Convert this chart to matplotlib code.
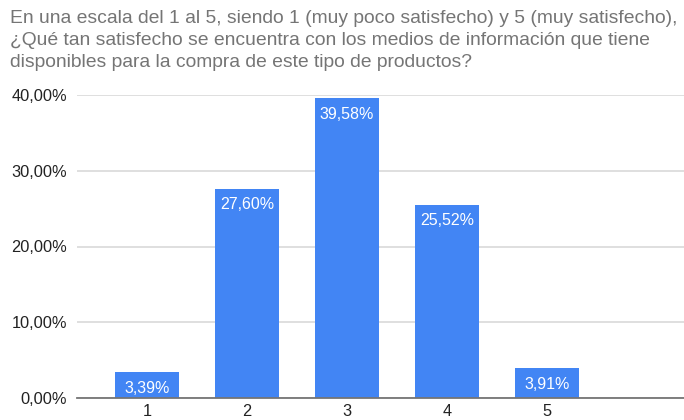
import matplotlib
matplotlib.use("Agg")
import matplotlib.pyplot as plt
from matplotlib.ticker import FuncFormatter

# Survey results: satisfaction score (1-5) and share of respondents (%)
categories = ["1", "2", "3", "4", "5"]
shares = [3.39, 27.60, 39.58, 25.52, 3.91]
y_ticks = [0, 10, 20, 30, 40]

title = ("En una escala del 1 al 5, siendo 1 (muy poco satisfecho) y 5 (muy satisfecho),\n"
         "¿Qué tan satisfecho se encuentra con los medios de información que tiene\n"
         "disponibles para la compra de este tipo de productos?")

BAR_COLOR = "#4285F4"
W, H, DPI = 684, 420, 100

fig = plt.figure(figsize=(W / DPI, H / DPI), dpi=DPI)
fig.patch.set_facecolor("white")

# Axes placement in pixel coordinates
left_px, right_px, top_px, bottom_px = 77, 684, 95, 398
ax = fig.add_axes([left_px / W, 1 - bottom_px / H,
                   (right_px - left_px) / W, (bottom_px - top_px) / H])

x = list(range(1, len(categories) + 1))
bars = ax.bar(x, shares, width=0.64, color=BAR_COLOR, zorder=3)

ax.set_xlim(0.3, 6.37)
ax.set_ylim(0, 40)
ax.set_yticks(y_ticks)
ax.yaxis.set_major_formatter(FuncFormatter(lambda v, _: f"{v:.2f}%".replace(".", ",")))
ax.set_xticks(x)
ax.set_xticklabels(categories)

ax.grid(axis="y", color="#d9d9d9", linewidth=1.2, zorder=0)
ax.set_axisbelow(True)
for side in ["top", "right", "left"]:
    ax.spines[side].set_visible(False)
ax.spines["bottom"].set_color("#757575")
ax.spines["bottom"].set_linewidth(1.3)
ax.spines["bottom"].set_zorder(4)

ax.tick_params(axis="both", length=0, labelsize=11.8, labelcolor="#222222",
               labelfontfamily="Liberation Sans")
ax.tick_params(axis="y", pad=7)
ax.tick_params(axis="x", pad=4)

# Value labels inside the top of each bar
for xi, v in zip(x, shares):
    ax.annotate(f"{v:.2f}%".replace(".", ","), xy=(xi, v), xytext=(0, -6),
                textcoords="offset points", ha="center", va="top",
                color="white", fontsize=11.5, family="Liberation Sans", zorder=5)

fig.text(10 / W, 1 - 10 / H, title, ha="left", va="top", color="#757575",
         fontsize=13.9, family="Liberation Sans", linespacing=1.38)

fig.savefig("out.png", dpi=DPI, facecolor="white")
